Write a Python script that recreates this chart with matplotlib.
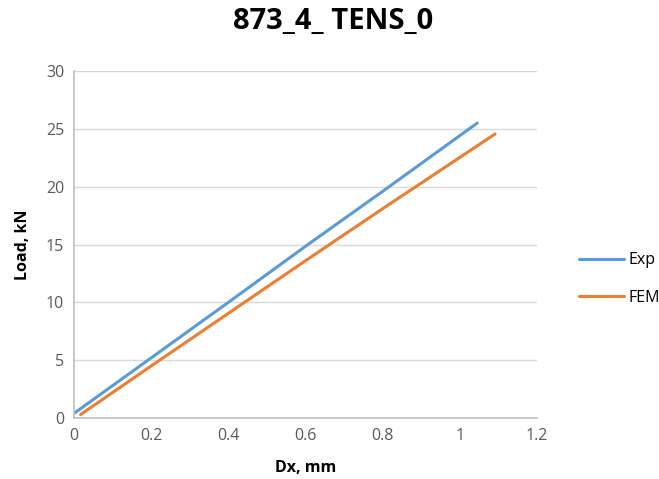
import matplotlib
matplotlib.use("Agg")
import matplotlib.pyplot as plt

# Load vs displacement, test and model
exp_dx = [0.0, 0.2, 0.4, 0.6, 0.8, 1.045]
exp_load = [0.4, 5.2, 10.0, 14.85, 19.6, 25.5]
fem_dx = [0.017, 0.2, 0.4, 0.6, 0.8, 1.091]
fem_load = [0.3, 4.5, 9.05, 13.6, 18.1, 24.55]

xticks = [0, 0.2, 0.4, 0.6, 0.8, 1, 1.2]
xticklabels = ["0", "0.2", "0.4", "0.6", "0.8", "1", "1.2"]
yticks = [0, 5, 10, 15, 20, 25, 30]

plt.rcParams["font.family"] = ["Open Sans", "DejaVu Sans"]

fig = plt.figure(figsize=(6.59, 4.79), dpi=100)
ax = fig.add_axes([0.1123, 0.1273, 0.7027, 0.7245])

ax.plot(exp_dx, exp_load, color="#5B9BD5", lw=2.2, label="Exp", solid_capstyle="round")
ax.plot(fem_dx, fem_load, color="#ED7D31", lw=2.2, label="FEM", solid_capstyle="round")

ax.set_xlim(0, 1.2)
ax.set_ylim(0, 30)
ax.set_xticks(xticks)
ax.set_xticklabels(xticklabels)
ax.set_yticks(yticks)
ax.tick_params(length=0, labelsize=11.5, colors="#595959", pad=7)
ax.yaxis.grid(True, color="#D9D9D9", lw=1)
ax.set_axisbelow(True)
for side in ("top", "right"):
    ax.spines[side].set_visible(False)
for side in ("left", "bottom"):
    ax.spines[side].set_color("#BFBFBF")
    ax.spines[side].set_linewidth(1.2)

ax.set_xlabel("Dx, mm", fontsize=11.5, fontweight="bold", labelpad=12)
ax.set_ylabel("Load, kN", fontsize=11.5, fontweight="bold", labelpad=11)
fig.suptitle("873_4_ TENS_0", fontsize=21, fontweight="bold", x=0.505, y=0.985)

ax.legend(loc="center left", bbox_to_anchor=(1.06, 0.40), frameon=False,
          fontsize=11.5, handlelength=2.8, handletextpad=0.3, labelspacing=1.35)

fig.savefig("out.png", dpi=100)
